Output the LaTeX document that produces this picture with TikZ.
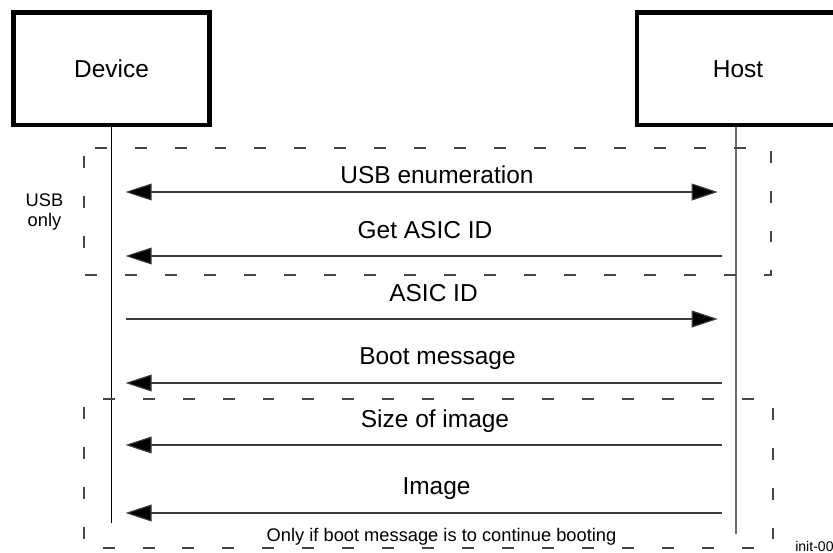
\documentclass[tikz,border=0pt]{standalone}
\usepackage{fontspec}
\setmainfont{Liberation Sans}
\usetikzlibrary{arrows.meta,positioning}
\definecolor{lifeGray}{RGB}{110,110,110}
\definecolor{msgGray}{RGB}{60,60,60}
\definecolor{dashGray}{RGB}{70,70,70}
\tikzset{
  party/.style={draw, line width=3.2pt, minimum width=4.9cm, minimum height=2.81cm,
                font=\fontsize{17.4}{20}\selectfont},
  lifeline/.style={line width=0.8pt},
  msg/.style={line width=0.8pt, draw=msgGray, shorten <=10pt, shorten >=10pt},
  bigtip/.tip={Triangle[length=18.5pt, width=12pt, fill=black]},
  lbl/.style={anchor=base, inner sep=0pt, font=\fontsize{17.4}{20}\selectfont},
  small/.style={inner sep=0pt, font=\fontsize{13}{14.2}\selectfont},
  dashbox/.style={draw=dashGray, line width=0.8pt,
                  dash pattern=on 8.5pt off 19.9pt, dash phase=22.8pt}
}
\begin{document}
\begin{tikzpicture}[x=0.025cm, y=-0.025cm]
\useasboundingbox (0,0) rectangle (833,552);
% participants
\node[party] (device) at (111.5,68.75) {Device};
\node[party, minimum width=5.05cm] (host) at (738,68.75) {Host};
\coordinate (devEnd) at (111.5,523);
\coordinate (hostEnd) at (736,534);
\draw[lifeline] (device.south) -- (devEnd);
\draw[lifeline, lifeGray] (hostEnd |- host.south) -- (hostEnd);
% groups
\draw[dashbox] (84,148) rectangle (771,275);
\draw[dashbox] (84,399) rectangle (773,548);
\node[small, align=center] (usbonly) at (44.5,212) {USB\\only};
\node[small, anchor=base] (onlyif) at (441.5,541) {Only if boot message is to continue booting};
% messages
\foreach \n/\y in {1/192,2/256,3/319,4/383,5/445,6/513}{
  \coordinate (d\n) at (111.5,\y);
  \coordinate (h\n) at (736,\y);
}
\draw[msg, bigtip-bigtip, shorten >=13pt, shorten <=10pt] (d1) -- (h1);
\draw[msg, -bigtip] (h2) -- (d2);
\draw[msg, -bigtip, shorten >=13pt] (d3) -- (h3);
\draw[msg, -bigtip] (h4) -- (d4);
\draw[msg, -bigtip] (h5) -- (d5);
\draw[msg, -bigtip] (h6) -- (d6);
\node[lbl] (m1) at (437,183) {USB enumeration};
\node[lbl] (m2) at (425,238) {Get ASIC ID};
\node[lbl] (m3) at (433.5,301) {ASIC ID};
\node[lbl] (m4) at (437.5,364) {Boot message};
\node[lbl] (m5) at (435,427) {Size of image};
\node[lbl] (m6) at (436.5,494) {Image};
\node[anchor=base west, inner sep=0pt, font=\fontsize{10}{12}\selectfont] (figid) at (795,551) {init-009};
\end{tikzpicture}
\end{document}
